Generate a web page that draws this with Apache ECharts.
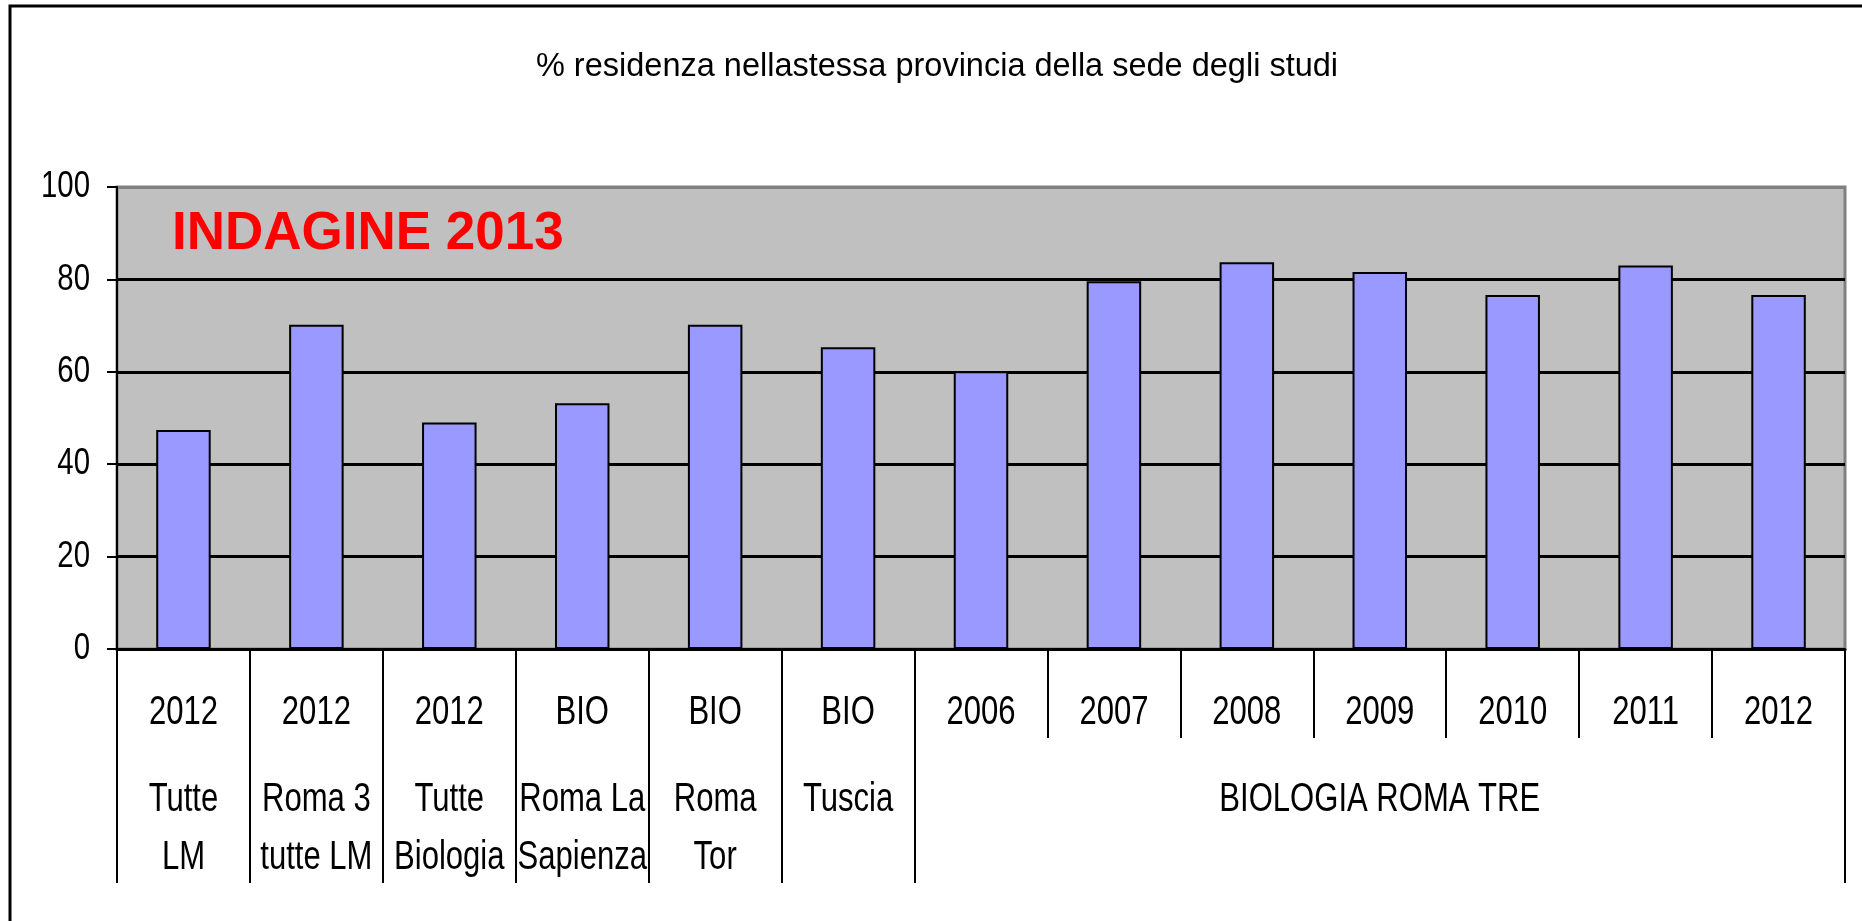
<!DOCTYPE html>
<html>
<head>
<meta charset="utf-8">
<script src="https://cdn.jsdelivr.net/npm/echarts@6/dist/echarts.min.js"></script>
<style>
html,body{margin:0;padding:0;background:#fff;}
#chart{width:1862px;height:921px;}
</style>
</head>
<body>
<div id="chart"></div>
<script>
// ---- data ----
var chartTitle = '% residenza nellastessa provincia della sede degli studi';
var annotation = 'INDAGINE 2013';
var yearLabels = ['2012','2012','2012','BIO','BIO','BIO','2006','2007','2008','2009','2010','2011','2012'];
var groupLabels = ['Tutte\nLM','Roma 3\ntutte LM','Tutte\nBiologia','Roma La\nSapienza','Roma\nTor','Tuscia','','','','BIOLOGIA ROMA TRE','','',''];
var values = [47.4, 70.2, 49.0, 53.2, 70.2, 65.3, 60.1, 79.6, 83.7, 81.6, 76.6, 83.0, 76.6];
var yMin = 0, yMax = 100, yStep = 20;

// condensed-looking axis text (Arial-metric font, squeezed horizontally after render)
var narrow = "'Liberation Sans', 'Arial Narrow', Arial, sans-serif";
var regular = "'Liberation Sans', Arial, sans-serif";
var squeeze = { 40: 0.776, 37: 0.794 };

var chart = echarts.init(document.getElementById('chart'));
chart.setOption({
  backgroundColor: '#ffffff',
  animation: false,
  title: {
    text: chartTitle,
    left: 932,
    textAlign: 'center',
    top: 46,
    textStyle: { fontFamily: regular, fontSize: 32.5, fontWeight: 'normal', color: '#000' }
  },
  graphic: [
    { type: 'rect', shape: { x: 10, y: 6, width: 2000, height: 2000 },
      style: { fill: 'none', stroke: '#000', lineWidth: 3 }, silent: true },
    { type: 'text', x: 172, y: 234, z: 100,
      style: { text: annotation, fontFamily: regular, fontSize: 53, fontWeight: 'bold',
               fill: '#ff0000', verticalAlign: 'middle', align: 'left' } }
  ],
  grid: {
    left: 117, right: 17, top: 187, bottom: 272,
    show: true, backgroundColor: '#c0c0c0', borderColor: '#808080', borderWidth: 3,
    outerBoundsMode: 'none'
  },
  xAxis: [
    {
      type: 'category', data: yearLabels, position: 'bottom',
      axisLine: { show: true, lineStyle: { color: '#000', width: 3 } },
      axisTick: { show: true, length: 89, lineStyle: { color: '#000', width: 2 } },
      axisLabel: { interval: 0, margin: 44, color: '#000', fontFamily: narrow, fontSize: 40, lineHeight: 40 },
      splitLine: { show: false }
    },
    {
      type: 'category', data: groupLabels, position: 'bottom',
      axisLine: { show: false },
      axisTick: { show: true, length: 234, interval: function (idx) { return idx <= 6; },
                  lineStyle: { color: '#000', width: 2 } },
      axisLabel: { interval: 0, margin: 122, color: '#000', fontFamily: narrow, fontSize: 40, lineHeight: 58,
                   formatter: function (v, i) { return groupLabels[i]; } },
      splitLine: { show: false }
    }
  ],
  yAxis: {
    type: 'value', min: yMin, max: yMax, interval: yStep,
    axisLine: { show: true, lineStyle: { color: '#000', width: 2 } },
    axisTick: { show: true, inside: false, length: 10, lineStyle: { color: '#000', width: 2 } },
    axisLabel: { margin: 27, color: '#000', fontFamily: narrow, fontSize: 37 },
    splitLine: { show: true, lineStyle: { color: ['#000','#000','#000','#000','#000','#808080'], width: 3 } }
  },
  series: [{
    type: 'bar', data: values, xAxisIndex: 0, barWidth: '41%',
    itemStyle: { color: '#9999ff', borderColor: '#000', borderWidth: 2 }
  }]
});

// squeeze axis label text horizontally around its anchor point
(function () {
  var zr = chart.getZr();
  var roots = zr.storage.getRoots();
  function visit(el) {
    if (el.type === 'text' && el.style) {
      var fam = el.style.fontFamily || el.style.font || '';
      if (String(fam).indexOf('Arial Narrow') >= 0) {
        var s = squeeze[el.style.fontSize] || squeeze[parseInt(el.style.fontSize, 10)];
        if (s) { el.scaleX = s; el.markRedraw(); }
      }
    }
    if (el.isGroup && el.eachChild) el.eachChild(visit);
  }
  roots.forEach(visit);
  zr.refresh();
})();
</script>
</body>
</html>
